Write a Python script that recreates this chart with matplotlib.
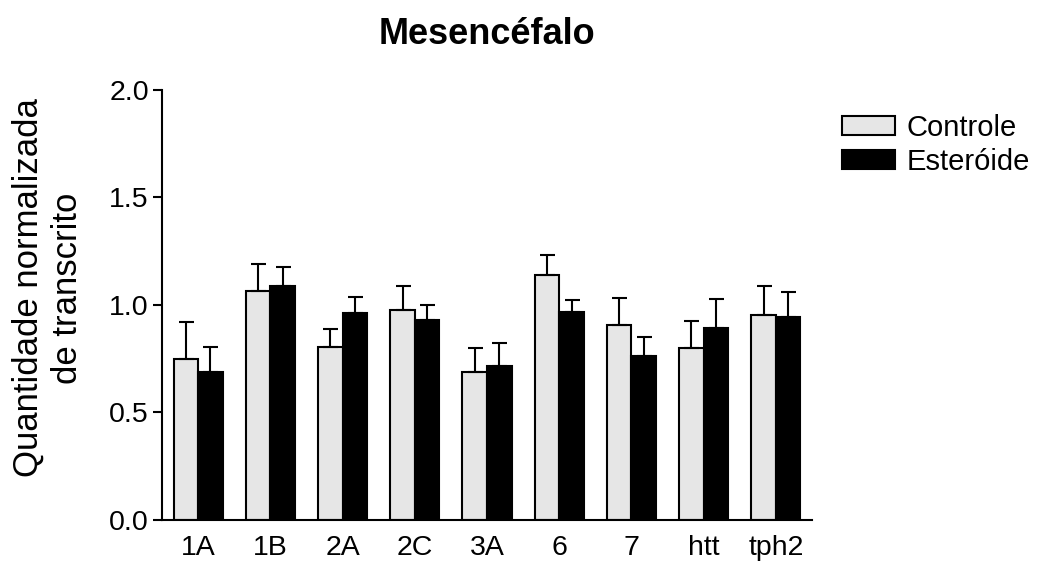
import matplotlib
matplotlib.use("Agg")
import matplotlib.pyplot as plt
import numpy as np

# ---------------------------------------------------------------------------
# Data: normalized transcript levels (mean + SEM) per gene
# ---------------------------------------------------------------------------
GENES = ["1A", "1B", "2A", "2C", "3A", "6", "7", "htt", "tph2"]
CONTROLE_MEAN = [0.751, 1.065, 0.806, 0.977, 0.687, 1.140, 0.909, 0.801, 0.955]
CONTROLE_SEM = [0.170, 0.126, 0.084, 0.112, 0.115, 0.091, 0.123, 0.125, 0.134]
ESTEROIDE_MEAN = [0.690, 1.089, 0.961, 0.929, 0.718, 0.966, 0.762, 0.892, 0.943]
ESTEROIDE_SEM = [0.114, 0.088, 0.076, 0.071, 0.106, 0.057, 0.090, 0.136, 0.117]
YTICKS = [0.0, 0.5, 1.0, 1.5, 2.0]

plt.rcParams['font.family'] = ['Liberation Sans', 'DejaVu Sans']

fig = plt.figure(figsize=(10.4, 5.63), dpi=100)
ax = fig.add_axes([0.1558, 0.0764, 0.625, 0.7638])

x = np.arange(len(GENES))
w = 0.34
lw = 1.5

ax.bar(x - w / 2, CONTROLE_MEAN, w, color="#e6e6e6", edgecolor="black",
       linewidth=lw, label="Controle", zorder=2)
ax.bar(x + w / 2, ESTEROIDE_MEAN, w, color="black", edgecolor="black",
       linewidth=lw, label="Esteróide", zorder=2)

# upward-only error bars
ax.errorbar(x - w / 2, CONTROLE_MEAN, yerr=[np.zeros(len(x)), CONTROLE_SEM],
            fmt="none", ecolor="black", elinewidth=lw, capsize=5.4,
            capthick=lw, zorder=3)
ax.errorbar(x + w / 2, ESTEROIDE_MEAN, yerr=[np.zeros(len(x)), ESTEROIDE_SEM],
            fmt="none", ecolor="black", elinewidth=lw, capsize=5.4,
            capthick=lw, zorder=3)

ax.set_xlim(-0.5, 8.5)
ax.set_ylim(0, 2.0)
ax.set_yticks(YTICKS)
ax.set_yticklabels([f"{v:.1f}" for v in YTICKS])
ax.set_xticks(x)
ax.set_xticklabels(GENES)

for side in ["top", "right"]:
    ax.spines[side].set_visible(False)
for side in ["left", "bottom"]:
    ax.spines[side].set_linewidth(lw)

ax.tick_params(axis="y", direction="out", length=6.5, width=lw,
               labelsize=20.5, pad=3)
ax.tick_params(axis="x", length=0, labelsize=20.5, pad=11)

ax.set_title("Mesencéfalo", fontsize=26, fontweight="bold", pad=33)

fig.text(48 / 1040, 1 - 288 / 563, "Quantidade normalizada\nde transcrito",
         rotation=90, ha="center", va="center", fontsize=25,
         multialignment="center", linespacing=1.25)

fig.legend(loc="upper left", bbox_to_anchor=(842 / 1040, 1 - 114 / 563),
           frameon=False, fontsize=21, handlelength=1.8,
           handleheight=0.6, handletextpad=0.4, labelspacing=0.2,
           borderpad=0, borderaxespad=0)

fig.savefig("out.png", dpi=100)
